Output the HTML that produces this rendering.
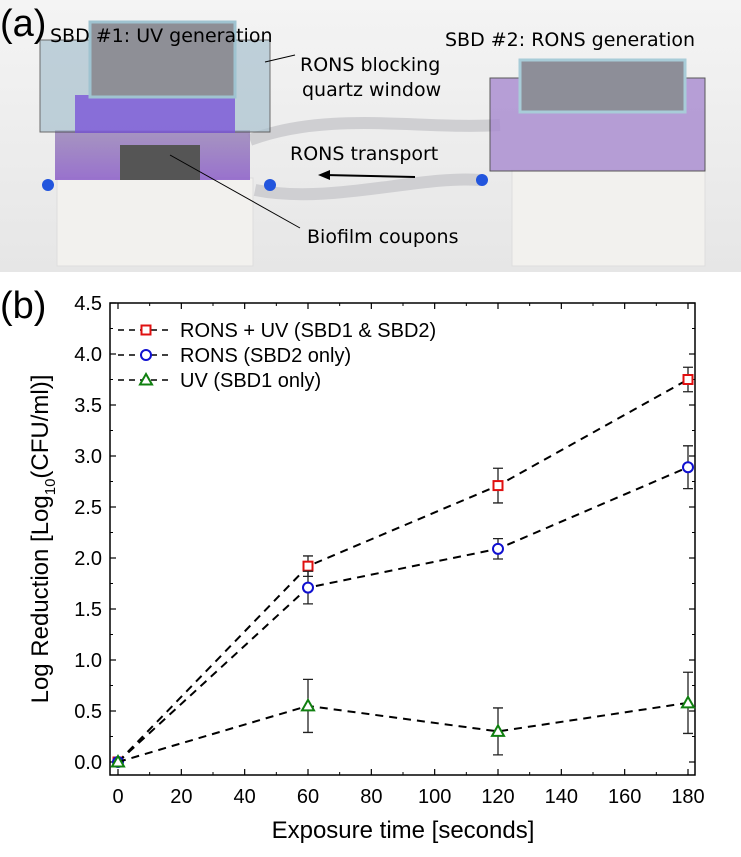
<!DOCTYPE html>
<html><head><meta charset="utf-8"><style>
html,body{margin:0;padding:0;background:#fff}
body{width:741px;height:857px;position:relative;overflow:hidden;font-family:"Liberation Sans",sans-serif}
svg{position:absolute;left:0;top:0}
</style></head><body>
<svg width="741" height="857">
<defs>
<linearGradient id="bg" x1="0" y1="0" x2="0" y2="1"><stop offset="0" stop-color="#f4f4f4"/><stop offset="1" stop-color="#e6e6e6"/></linearGradient>
<linearGradient id="purp" x1="0" y1="0" x2="0" y2="1"><stop offset="0" stop-color="#9a86b8"/><stop offset="1" stop-color="#8a5cc8"/></linearGradient>
</defs>
<g>
<rect x="0" y="0" width="741" height="272" fill="url(#bg)"/>
<path d="M250,140 C330,110 420,130 500,125" stroke="#cfcfd2" stroke-width="12" fill="none"/>
<path d="M255,190 C330,205 420,175 480,180" stroke="#cfcfd2" stroke-width="12" fill="none"/>
<g>
<rect x="57" y="178" width="196" height="88" fill="#f2f1ee" stroke="#ddd"/>
<rect x="55" y="130" width="195" height="50" fill="url(#purp)" opacity="0.85"/>
<rect x="120" y="145" width="80" height="35" fill="#555"/>
<rect x="40" y="40" width="230" height="92" fill="#a9c2cf" opacity="0.7" stroke="#333"/>
<rect x="75" y="95" width="160" height="38" fill="#7b55d8" opacity="0.8"/>
<rect x="90" y="22" width="145" height="75" fill="#8e8f96" stroke="#9fc3d0" stroke-width="3"/>
<circle cx="48" cy="185" r="6" fill="#2255dd"/>
</g>
<g>
<rect x="512" y="170" width="193" height="96" fill="#f2f1ee" stroke="#ddd"/>
<rect x="490" y="78" width="215" height="93" fill="#a88ad0" opacity="0.8" stroke="#333"/>
<rect x="520" y="60" width="165" height="52" fill="#8d8e98" stroke="#a8ccd8" stroke-width="3"/>
<circle cx="482" cy="180" r="6" fill="#2255dd"/>
<circle cx="270" cy="185" r="6" fill="#2255dd"/>
</g>
<line x1="265" y1="62" x2="295" y2="55" stroke="#000"/>
<line x1="415" y1="177" x2="325" y2="175" stroke="#000" stroke-width="2"/>
<polygon points="318,175 330,170 330,180" fill="#000"/>
<line x1="170" y1="155" x2="300" y2="228" stroke="#000"/>
<text x="0" y="36" font-size="38">(a)</text>
<text x="50" y="42" font-size="19" font-family="DejaVu Sans">SBD #1: UV generation</text>
<text x="445" y="46" font-size="19" font-family="DejaVu Sans">SBD #2: RONS generation</text>
<text x="300" y="71" font-size="19" font-family="DejaVu Sans">RONS blocking</text>
<text x="302" y="96" font-size="19" font-family="DejaVu Sans">quartz window</text>
<text x="290" y="160" font-size="19" font-family="DejaVu Sans">RONS transport</text>
<text x="307" y="243" font-size="19" font-family="DejaVu Sans">Biofilm coupons</text>
</g>
<text x="0" y="318" font-size="38">(b)</text>
<g id="chart"></g>
</svg>
<script>
const xValues=[0,60,120,180];
const ronsUv=[0,1.92,2.71,3.75];
const ronsUvErr=[0,0.1,0.17,0.12];
const rons=[0,1.71,2.09,2.89];
const ronsErr=[0,0.16,0.1,0.21];
const uv=[0,0.55,0.3,0.58];
const uvErr=[0,0.26,0.23,0.3];
const xTicks=[0,20,40,60,80,100,120,140,160,180];
const yTicks=[0,0.5,1,1.5,2,2.5,3,3.5,4,4.5];
const seriesNames=["RONS + UV (SBD1 & SBD2)","RONS (SBD2 only)","UV (SBD1 only)"];

const NS="http://www.w3.org/2000/svg";
const g=document.getElementById('chart');
const L=110,R=695,T=303,B=775;
const sx=v=>118+v*(688-118)/180;
const sy=v=>762-v*102;
function mk(tag,attrs,parent){const e=document.createElementNS(NS,tag);for(const k in attrs)e.setAttribute(k,attrs[k]);(parent||g).appendChild(e);return e;}
let frame=mk('rect',{x:L,y:T,width:R-L,height:B-T,fill:'none',stroke:'#000','stroke-width':1.5});


xTicks.forEach((t,i)=>{
  const x=sx(t);
  let tk=mk('line',{x1:x,y1:B,x2:x,y2:B-6,stroke:'#000','stroke-width':1.2});
  
  
  let tk2=mk('line',{x1:x,y1:T,x2:x,y2:T+6,stroke:'#000','stroke-width':1.2});
  
  
  if(i<xTicks.length-1){const xm=sx(t+10);
    let m=mk('line',{x1:xm,y1:B,x2:xm,y2:B-3,stroke:'#000'});
    let m2=mk('line',{x1:xm,y1:T,x2:xm,y2:T+3,stroke:'#000'});}
  let lb=mk('text',{x:x,y:B+28,'font-size':20,'text-anchor':'middle'});lb.textContent=t;
  
  
});
yTicks.forEach((t,i)=>{
  const y=sy(t);
  let tk=mk('line',{x1:L,y1:y,x2:L+6,y2:y,stroke:'#000','stroke-width':1.2});
  
  
  let tk2=mk('line',{x1:R,y1:y,x2:R-6,y2:y,stroke:'#000','stroke-width':1.2});
  
  
  if(i<yTicks.length-1){const ym=sy(t+0.25);
    let m=mk('line',{x1:L,y1:ym,x2:L+3,y2:ym,stroke:'#000'});
    let m2=mk('line',{x1:R,y1:ym,x2:R-3,y2:ym,stroke:'#000'});}
  let lb=mk('text',{x:L-8,y:y+7,'font-size':20,'text-anchor':'end'});lb.textContent=t.toFixed(1);
  
  
});
let xt=mk('text',{x:403,y:838,'font-size':24,'text-anchor':'middle'});xt.textContent='Exposure time [seconds]';


let yt=mk('text',{x:0,y:0,'font-size':24,'text-anchor':'middle',transform:'translate(48,539) rotate(-90)'});
yt.innerHTML='Log Reduction [Log<tspan font-size="15" dy="7">10</tspan><tspan dy="-7">(CFU/ml)]</tspan>';



const series=[[ronsUv,ronsUvErr,'#e01010','square'],[rons,ronsErr,'#1010d0','circle'],[uv,uvErr,'#108010','triangle']];
function marker(type,x,y,c,parent){
  let m;
  if(type==='square')m=mk('rect',{x:x-4.5,y:y-4.5,width:9,height:9,fill:'#fff',stroke:c,'stroke-width':2},parent);
  else if(type==='circle')m=mk('circle',{cx:x,cy:y,r:5,fill:'#fff',stroke:c,'stroke-width':2},parent);
  else m=mk('polygon',{points:`${x},${y-6} ${x+6},${y+4.5} ${x-6},${y+4.5}`,fill:'#fff',stroke:c,'stroke-width':2},parent);
  return m;
}
series.forEach((s,si)=>{
  const [vals,errs,c,type]=s;
  let pl=mk('polyline',{points:vals.map((v,i)=>sx(xValues[i])+','+sy(v)).join(' '),fill:'none',stroke:'#000','stroke-width':2,'stroke-dasharray':'8,6'});
  
  
  vals.forEach((v,i)=>{
    const x=sx(xValues[i]);
    if(errs[i]>0){
      let e=mk('path',{d:`M${x},${sy(v-errs[i])}V${sy(v+errs[i])}M${x-5},${sy(v-errs[i])}h10M${x-5},${sy(v+errs[i])}h10`,stroke:'#222','stroke-width':1.3,fill:'none'});
      
      
    }
    let m=marker(type,x,sy(v),c);
    
    
  });
  const ly=330+si*25;
  let ll=mk('line',{x1:118,y1:ly,x2:172,y2:ly,stroke:'#000','stroke-width':1.5,'stroke-dasharray':'6,5'});
  
  
  let lm=marker(type,146,ly,c);
  
  
  let lt=mk('text',{x:180,y:ly+7,'font-size':20});lt.textContent=seriesNames[si];
  
  
});
</script>
</body></html>
